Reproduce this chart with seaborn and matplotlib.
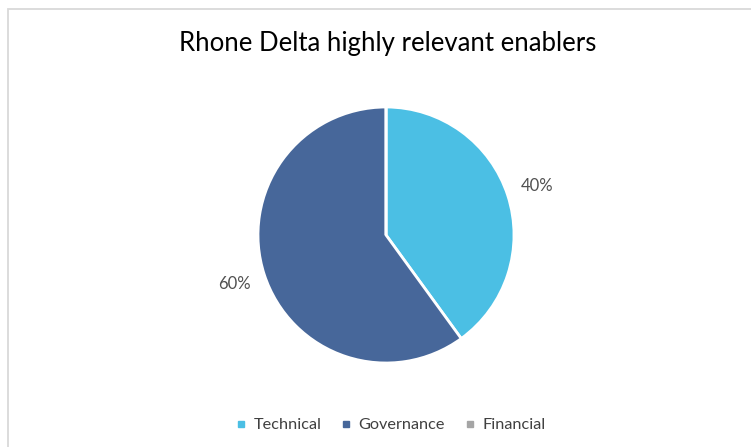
import math
import matplotlib
matplotlib.use("Agg")
import matplotlib.pyplot as plt
from matplotlib.patches import Rectangle
from matplotlib.lines import Line2D
import seaborn as sns

# Enabler shares for the Rhone Delta
categories = ["Technical", "Governance", "Financial"]
shares = [40, 60, 0]
colors = ["#4BBFE4", "#47679A", "#A5A5A5"]
title = "Rhone Delta highly relevant enablers"

sns.set_theme(style="white")
plt.rcParams["font.family"] = ["Lato", "DejaVu Sans"]

W, H = 751, 447
fig = plt.figure(figsize=(W / 100, H / 100), dpi=100)
fig.patch.set_facecolor("white")

# Light grey chart frame
fig.add_artist(Rectangle((8 / W, -0.05), 1.1, 1 - 9 / H + 0.05,
                         transform=fig.transFigure, fill=False,
                         edgecolor="#D9D9D9", linewidth=1.3))

# Pie axes: radius 128 px centred at (386, 235)
cx, cy, r = 386, 235, 128
ax = fig.add_axes([(cx - r) / W, (H - cy - r) / H, 2 * r / W, 2 * r / H])

wedges = ax.pie(
    shares, colors=colors, startangle=90, counterclock=False,
    wedgeprops=dict(edgecolor="white", linewidth=2, clip_on=False),
)[0]

# Percentage labels outside each non-empty wedge
total = sum(shares)
ang = 90.0
for val in shares:
    span = 360.0 * val / total
    mid = math.radians(ang - span / 2)
    if val > 0:
        ax.text(1.245 * math.cos(mid), 1.245 * math.sin(mid),
                f"{100 * val / total:.0f}%",
                ha="center", va="center", fontsize=12, color="#505050", clip_on=False)
    ang -= span
ax.set_xlim(-1, 1)
ax.set_ylim(-1, 1)
ax.set_axis_off()

fig.text(388 / W, 1 - 51 / H, title, ha="center", va="baseline",
         fontsize=18.5, color="#000000")

handles = [Line2D([0], [0], marker="s", linestyle="", markersize=4.5,
                  markerfacecolor=c, markeredgecolor=c) for c in colors]
fig.legend(handles, categories, loc="center", bbox_to_anchor=(391 / W, 1 - 425 / H),
           ncol=3, frameon=False, fontsize=11.7, handlelength=0.6, handletextpad=0.45,
           columnspacing=1.25, labelcolor="#404040")

fig.savefig("out.png", dpi=100)
